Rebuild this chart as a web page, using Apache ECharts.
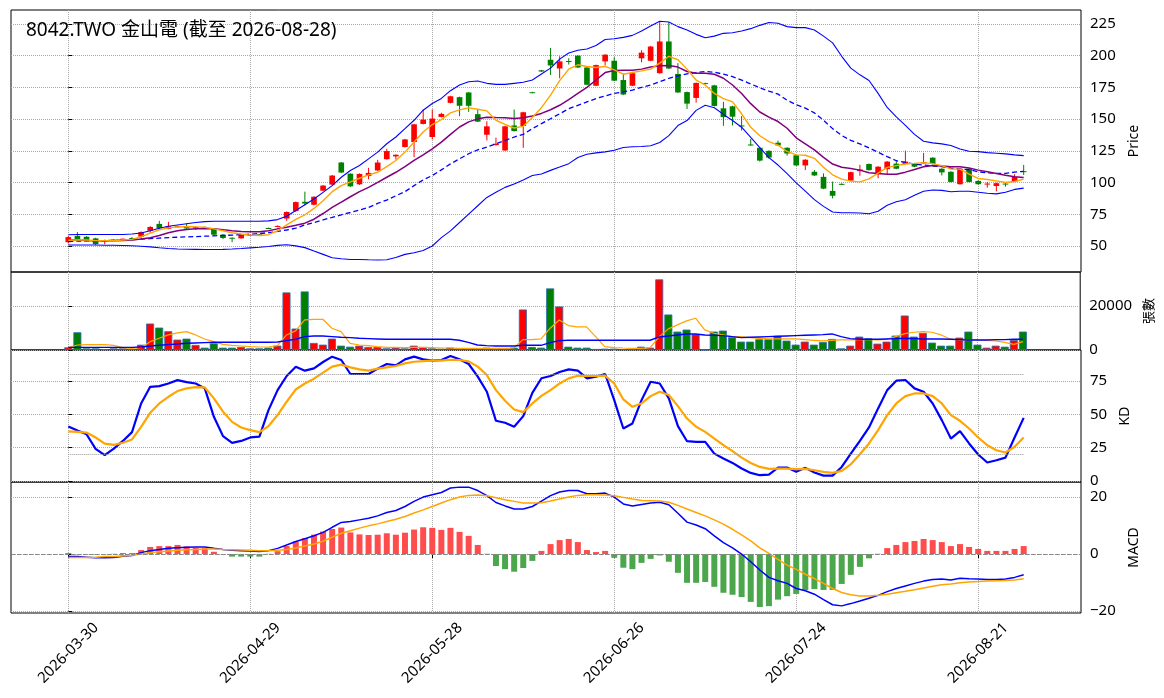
<!DOCTYPE html>
<html>
<head>
<meta charset="UTF-8">
<title>8042.TWO 金山電</title>
<script src="https://cdn.jsdelivr.net/npm/echarts@6/dist/echarts.min.js"></script>
<style>
  html, body { margin: 0; padding: 0; background: #fff; }
  #main { width: 1164px; height: 698px; }
</style>
</head>
<body>
<div id="main"></div>
<script>
// trading days shown on the chart
const dates = [
  '2026-03-30','2026-03-31','2026-04-01','2026-04-02','2026-04-07','2026-04-08','2026-04-09','2026-04-10',
  '2026-04-13','2026-04-14','2026-04-15','2026-04-16','2026-04-17','2026-04-20','2026-04-21','2026-04-22',
  '2026-04-23','2026-04-24','2026-04-27','2026-04-28','2026-04-29','2026-04-30','2026-05-04','2026-05-05',
  '2026-05-06','2026-05-07','2026-05-08','2026-05-11','2026-05-12','2026-05-13','2026-05-14','2026-05-15',
  '2026-05-18','2026-05-19','2026-05-20','2026-05-21','2026-05-22','2026-05-25','2026-05-26','2026-05-27',
  '2026-05-28','2026-05-29','2026-06-01','2026-06-02','2026-06-03','2026-06-04','2026-06-05','2026-06-08',
  '2026-06-09','2026-06-10','2026-06-11','2026-06-12','2026-06-15','2026-06-16','2026-06-17','2026-06-18',
  '2026-06-22','2026-06-23','2026-06-24','2026-06-25','2026-06-26','2026-06-29','2026-06-30','2026-07-01',
  '2026-07-02','2026-07-03','2026-07-06','2026-07-07','2026-07-08','2026-07-09','2026-07-10','2026-07-13',
  '2026-07-14','2026-07-15','2026-07-16','2026-07-17','2026-07-20','2026-07-21','2026-07-22','2026-07-23',
  '2026-07-24','2026-07-27','2026-07-28','2026-07-29','2026-07-30','2026-07-31','2026-08-03','2026-08-04',
  '2026-08-05','2026-08-06','2026-08-07','2026-08-10','2026-08-11','2026-08-12','2026-08-13','2026-08-14',
  '2026-08-17','2026-08-18','2026-08-19','2026-08-20','2026-08-21','2026-08-24','2026-08-25','2026-08-26',
  '2026-08-27','2026-08-28'
]
const tickIdx = [0, 20, 40, 60, 80, 100]

const open = [53,58,57.3,56,53.6,54.4,54.2,56.3,57.3,62,67.4,63.5,65.2,65.6,64.3,65,63.5,58.9,56.5,56,
  58.3,59.2,64.2,65.2,71.6,77.6,84.8,82.5,93.6,98.4,115.8,107,98.6,105.2,109.5,118.4,120.6,128,131.9,146.2,
  135.9,151.7,162.8,167.3,171,153.9,137.7,129.5,125.3,145,144.6,171.2,188.5,196.8,189.9,195.8,200,190.7,176.3,195.5,
  196,180.8,176.3,197.9,196,186.2,211.2,185.6,171.3,166.7,178.4,176.6,158.5,160.1,145,130,127.4,125,131.4,127.4,
  121.5,113.5,108.5,104.5,93.4,99,101.6,109,114.6,106.6,110.6,114.9,114.6,115.1,115.1,119.6,110.9,108.5,98.7,110.9,
  101.3,98.7,97.3,99.2,100.8,109]
const close = [57,55.5,54.7,51.5,54.7,55,55.7,54.8,61,65,64,65.6,65.5,63.8,65,63.5,58.9,56.3,56,59,
  58.8,58.8,63.8,65.8,76.8,84.6,83.5,88.8,97.6,105.5,107.9,97,106.8,107.6,115.8,124.8,121.9,134,145.9,149.6,
  150.4,154.1,168,160.5,160.5,148,144.3,130.6,144.3,140.6,155.4,170.8,187.5,192.3,195.5,195.2,190.7,177.1,192.6,200.8,
  180.3,169.4,186.2,202.4,207.2,211.2,189.9,171,162.2,178.5,178,160.4,151.6,151.9,144.5,129.5,117.3,119.7,129.3,122.9,
  113.5,118,105.6,95.2,89.6,98.5,108.2,110.3,109.8,112.5,116.5,110.9,116.5,112.5,116.2,114.6,108,100.5,110.9,100.5,
  98.7,99.2,99.5,98.7,104.5,108.5]
const high = [58,61,57.8,56.5,55,55.5,56,57,61.5,65.6,69.8,69,66,67.7,65.3,65.3,63.8,59.2,56.8,59.3,
  59.2,59.5,64.5,66.2,77.2,85,92.8,89.2,98,106,116.2,107.3,107.2,111.6,117.9,126.6,122.3,134.4,146.3,157.6,
  157.6,155,168.4,167.7,171.4,157.8,148.3,135.4,144.7,157.6,155.8,171.5,188.8,206.1,199.5,198,200.4,191,193,201.2,
  198.8,185.9,186.6,204.3,207.6,227,226.5,194.1,171.7,178.9,178.7,177,163.6,160.5,152.4,134.3,127.8,125.4,133,127.8,
  121.9,118.4,109.8,107.2,100.8,99.3,108.6,114,115,112.9,116.9,117.8,125.2,115.5,123.4,120,111.3,108.9,111.3,111.3,
  101.7,100.5,99.9,99.6,106.6,113.9]
const low = [52,55,54.3,50.8,51.3,54,54,54.5,56,60.4,63.5,63.2,64.8,63.5,62.5,63.2,58.1,55.5,53,55.7,
  58,58.5,63.5,64.8,69.8,76.8,82,82,93.2,98,107.5,96.5,98.2,102.6,109.2,118,118.2,127.6,120,145.8,
  134,151.3,162.4,152.3,155.7,147.6,133.2,129.2,125,140.2,127.4,170.5,187.2,184.8,182.2,193,190.3,176.7,176,192.3,
  180,169,176,194.8,195.6,185.8,189.5,170.6,158,163,177.7,160,144.7,145,141,129,116.5,118.8,128.9,121.2,
  113.1,109.8,105.2,94.8,87.5,98.2,101.2,105.3,109.4,103.4,106.5,110.5,114.2,112.1,114.8,114.2,105.6,100.1,98.3,100.1,
  98.3,96,93.1,96.8,100.4,106]

const ma5 = [54.5,54.7,54.7,54.2,54.2,54.2,54.7,55.2,57.3,60.2,62.8,64.3,65.1,65.4,65.1,64.8,63.5,62,60.4,59.4,
  58.6,58.3,58.9,62,66.7,71,74.6,79.6,85.7,92.8,97.6,100.5,103.4,106,108.1,112.6,117.4,124,131.9,139.8,
  145.7,149.6,154.9,157.3,158.9,157.8,156.5,149.1,145.9,143,144.3,151.2,159,168.9,180.3,189.4,192.8,191.5,190.7,191.5,
  188.8,185.4,186.7,188,189.4,194.1,199.5,196.8,189.4,180.8,176.9,170.2,166.2,163.6,154.2,143.6,136.9,132.2,129.5,124.5,
  121.8,121.5,119.1,112,106.1,102.7,101.1,100.5,102.9,107.4,112,113.3,114.6,115.1,115.7,114.9,113.3,110.6,110.6,106.6,
  103.2,102.4,101.3,100,100.8,102.7]
const ma10 = [54.7,54.7,54.4,54.2,54.2,54.2,54.4,54.7,55.5,56.5,58.3,60.4,62,63,63.5,63.8,63.5,62.8,62,61.5,
  61.2,61.2,62,63.5,64.8,66.3,68,71.1,75.6,80.4,84.6,88.8,92.8,96.2,100.2,104.2,108.1,112.6,117.4,121.9,
  126.6,131.9,138,143.8,147.8,150.2,151.5,151.2,151,150.4,151,152.5,154.5,157.4,160.9,165.4,170.2,175,180.8,186.7,
  188.3,188.6,188.6,189.4,191,192,192.3,191,187.5,186.2,186.2,185.4,182.2,176.9,170.2,162.2,155.6,151.6,148.1,142.8,
  135.3,130.5,125.7,119.9,114.6,112,111.1,109.8,107.7,107.2,106.6,106.6,108.2,110.3,112.5,113.5,113,112.5,112.5,111.4,
  109.8,108.5,107.2,105.8,104.5,104]
const ma20 = [53.6,53.8,54,54.2,54.3,54.5,54.7,55,55.4,55.8,56.2,56.6,56.9,57.2,57.4,57.7,58,58.3,58.6,58.9,
  59.3,59.8,60.5,61.5,62.6,64,66.6,68.5,70.6,72.5,74.6,76.4,78.3,80.4,83.6,86.2,89.6,92.8,97.6,102.1,
  105.5,110,114.7,118.7,122.7,125.8,128,130.6,133.2,135.9,138,142.5,146.4,150.3,154.2,158.2,160.9,163.6,166.2,168.3,
  170.2,171.5,172.9,175,176.9,179.5,182.2,184,185.6,186.7,187.5,187,185.4,183.5,180.8,177.7,174.7,172.1,169.7,164.8,
  161.4,158.7,154.9,149.1,142.5,137.1,133.2,130.5,127.3,123.9,120.4,117.2,115.9,114.6,113.8,113,112.5,111.4,110.6,110.1,
  108.5,107.7,107.2,107.2,108.2,108.8]
const bbUpper = [58.9,59,59,59,59,59,59.1,59.5,60.2,62,64,65.5,66.5,67.5,68.5,69.2,69.5,69.5,69.5,69.5,
  69.5,69.5,69.8,70.8,73.5,78,82.5,87,92.3,97.6,104.2,109.5,113.4,118.7,124,130.6,135.9,142.5,149.1,157,
  162.3,166.3,172.4,176.9,179.5,180,178.2,177.4,177.4,178.2,179,180.8,185.5,190.2,197.3,202.1,204.3,205.3,208,212.8,
  213.3,214.4,216,219.4,223.4,227.1,226.6,222.9,220.2,216.8,214.1,215.4,217.6,218.1,219.4,221.3,223.9,226.1,225.5,222.9,
  222.1,222.1,220.2,215.4,210.1,199.5,190.2,184.9,180.4,170.3,159.2,151.7,145.1,138,132.6,131.3,130.5,129.2,126.5,124.7,
  124.4,123.6,123.1,122.6,121.8,121.2]
const bbLower = [50.8,50.8,50.8,50.8,50.6,50.6,50.4,50.2,49.8,49.3,48.6,48,47.6,47.4,47.3,47.2,47.2,47.3,47.6,48,
  48.5,49,49.6,50.5,51,50.1,48.7,46,43.4,40.7,39.9,39.4,39.4,39.1,38.9,39.1,41,43.4,44.7,46.5,
  50,56.6,61.9,68.5,75.1,81.7,88.3,92.3,96.2,98.9,102.1,105.5,106.8,109.6,112.2,114.9,119.7,122.3,123.4,124.2,
  125.5,127.6,128.2,128.4,129,131.6,137,144.9,148.9,156.9,160.9,159,153.7,148.9,143.6,135.6,127.6,119.7,113.8,107,
  99.8,93.2,86.5,81.2,76.8,76.2,76.2,76,75.4,77.4,82.1,84.8,86.5,89.9,93.2,94.1,93.8,92.8,93.2,93.2,
  92.4,91.6,91.1,92.4,94.6,95.6]

// 張數
const volume = [1200,8030,760,760,300,760,760,450,2400,11970,10150,8480,4700,5150,2270,1060,3030,1060,1060,1360,
  760,760,1060,1970,26060,9700,26500,3180,2420,5150,1970,1500,1970,1360,1360,760,1060,760,1970,1360,
  760,600,1060,760,760,760,1060,760,760,1060,18330,1360,1060,27880,19700,1500,1060,1060,450,600,
  600,300,300,1500,1060,31970,16060,8330,9240,7120,100,8330,8790,5760,3790,3790,4850,4850,6360,4240,
  2420,3790,2420,3640,5000,760,1970,6060,5300,2880,3790,6510,15600,6060,7730,3330,1970,1970,5600,8330,
  2420,1060,1970,1500,4545,8330]
const volMa5 = [1060,2270,2420,2420,2420,2120,1060,760,1060,3790,5300,6820,7730,8330,6820,5000,3790,2575,2120,1820,
  1500,1360,1360,1970,6820,8640,13600,13900,13900,9850,8330,3030,2270,1970,1500,1210,1210,1060,1210,1210,
  1060,900,900,760,760,760,760,760,760,900,4700,4700,5000,9850,13600,11060,10450,10450,6060,1500,
  1060,900,760,760,1060,6060,9545,11360,13180,14390,9090,7575,6820,6060,6060,5600,5300,5000,5000,5000,
  5000,4700,4400,4090,4400,4545,4545,4700,4700,4545,4850,6060,7420,8030,8330,8030,6820,5000,4545,4700,
  4545,4400,4090,3480,2575,3790]
const volMa20 = [1210,1210,1210,1210,1210,1210,1210,1210,1360,1820,2120,2420,2730,3030,3180,3330,3480,3480,3480,3480,
  3480,3480,3480,3640,4240,4850,6060,6360,6360,6060,5760,5600,5300,5150,5000,4850,4850,4850,4850,4850,
  4850,4850,4850,4400,3480,2270,1970,1820,1820,1820,2120,2120,2120,3330,4240,4400,4400,4400,4400,4400,
  4400,4400,4400,4400,4400,5900,6360,6820,7270,7270,6820,6670,6510,6060,5600,5760,5900,6060,6210,6360,
  6510,6670,6820,6970,7270,6060,5150,4850,4850,4850,5000,5150,5300,5150,5000,5000,5000,4850,4700,4545,
  4545,4545,4700,4700,4850,4850]

const kLine = [40.8,37.8,35,24,19.3,24.3,30,36.6,58.1,70.6,71.1,73.1,75.6,74.1,73.1,69.4,48.1,33.6,28.6,30,
  32.6,33.3,53.1,68.1,78.7,85.7,82.7,84.4,89.2,93.2,90.7,80.2,80.2,80.2,84.2,87.7,86.7,91.2,93.2,91.2,
  90.2,90.7,93.7,91.2,87.7,78.2,66.9,45.1,43.6,40.6,48.6,66.1,77,78.7,81.7,83.7,82.7,76.9,78.2,80.2,
  60.6,39.3,43.1,60.6,74.4,73.1,61.9,41.1,29.8,29.3,29.3,20.5,16.8,13.5,9.3,6,4.3,4.8,10,10,
  6.8,9.8,6.3,4,4,10.5,20.5,30.1,40.1,54.4,68.1,75.2,75.7,69.4,66.9,58.1,45.6,31.8,37.3,28.1,
  19.8,13.8,15.5,17.5,32.6,47.3]
const dLine = [37.1,36.8,36.3,32.6,28,27,28.6,31.1,40.6,51.1,58.1,63.1,67.4,69.4,70.4,70.1,61.9,51.9,44.3,40.1,
  38.1,36.6,41.1,49.4,59.4,68.6,73.1,76.7,81.2,85.7,87.2,85.2,83.7,82.7,84.2,85.2,86.2,88.2,89.4,89.9,
  90.2,90.2,90.9,90.7,89.7,85.7,79.4,68.1,60.1,53.6,51.6,58.1,63.8,68.1,73.1,76.9,78.9,78.7,78.7,78.9,
  73.1,61.1,55.6,58.1,63.6,66.9,64.4,56.1,46.8,40.6,36.8,31.8,26.8,22.3,17.5,13.5,10.5,9,9.3,9.3,
  8.8,9,8,6.8,6,7.5,12.5,20,28.1,38.1,49.4,58.1,63.6,65.6,65.6,63.6,58.1,49.4,45.1,39.3,
  32.6,26.8,23,21.3,25.6,32.6]

const dif = [-0.9,-0.9,-1.1,-1.3,-1.3,-1.2,-0.8,-0.5,0.5,1.2,1.6,2,2.2,2.4,2.5,2.5,2,1.6,1.3,1.2,
  1.1,0.9,1.2,2,3.2,4.4,5.4,6.4,7.6,9.4,11.1,11.4,12,12.6,13.4,14.6,15.3,16.7,18.5,20,
  20.8,21.6,23.2,23.5,23.5,22.3,20.5,18.1,16.9,15.8,15.8,16.7,18.6,20.5,21.8,22.3,22.3,21.2,21.2,21.4,
  20,17.6,16.9,17.4,17.9,18.2,17.3,14.3,11.2,10.2,8.9,6.4,4,2.2,0,-2.7,-5.6,-8.2,-9.4,-10.3,
  -12.1,-12.9,-14.1,-16,-17.8,-18.2,-17.4,-16.5,-15.5,-14.5,-13.2,-12.1,-11.2,-10.3,-9.5,-8.9,-8.8,-9.1,-8.5,-8.7,
  -8.8,-8.9,-8.9,-8.8,-8.2,-7.3]
const dea = [-1.2,-1.2,-1.2,-1.1,-0.9,-0.9,-0.7,-0.4,0,0.5,0.8,1.1,1.3,1.5,1.6,1.8,1.8,1.6,1.5,1.4,
  1.3,1.2,1.2,1.3,1.6,2.1,2.8,3.5,4.5,5.9,7.3,8.2,9.1,9.9,10.6,11.4,12.2,13.2,14.4,15.5,
  16.7,17.9,19.1,20,20.6,20.7,20.5,19.8,19.1,18.5,17.9,17.9,18,18.6,19.3,20,20.6,20.8,20.8,20.7,
  20.5,19.9,19.3,18.8,18.7,18.6,18.2,17.1,15.8,14.6,13.4,12,10.5,8.7,6.7,4.6,2.2,0.2,-1.9,-3.9,
  -5.4,-7.1,-8.6,-10.3,-12.1,-13.5,-14.3,-14.7,-14.7,-14.5,-14.1,-13.6,-13.1,-12.5,-11.9,-11.3,-10.8,-10.5,-10.1,-9.8,
  -9.6,-9.5,-9.4,-9.3,-9.1,-8.7]
const macdHist = [0.35,-0.1,-0.1,-0.2,-0.1,0.1,0.35,0.35,1.4,2.5,2.8,2.8,3.2,2.7,2.2,2.1,0.8,-0.1,-0.9,-0.9,
  -0.9,-0.9,0.1,1,2.8,4.4,5.6,6.8,7.9,8.8,9.3,7.6,6.9,6.7,6.8,7.3,6.8,7.5,8.6,9.4,
  9.2,8.5,9.2,7.8,6.4,3.2,0.1,-4.2,-5.3,-6.2,-4.9,-2.4,1.1,3.5,4.9,5.3,4.2,1.4,0.7,1.1,
  -1.3,-4.8,-5.3,-3.1,-1.7,-0.5,-2.7,-6.6,-10.1,-10.1,-9.8,-11.5,-13.6,-14.3,-15.1,-16.8,-18.6,-18.3,-16,-14.8,
  -14,-12.7,-12.3,-12.6,-12.6,-10.5,-7.3,-4.5,-1.5,0.1,2.1,3.2,4.2,4.6,5.3,4.9,4.2,2.8,3.5,2.5,
  1.8,1.1,1.1,1.1,1.8,2.8]

const UP = '#ff0000', DOWN = '#008000'
const FONT = '"Noto Sans", "Noto Sans CJK TC", sans-serif'
const xMin = -6.3, xMax = 111.3

const pair = arr => arr.map((v, i) => [i, v])

const candleData = dates.map((d, i) => [i, open[i], close[i], low[i], high[i]])

function renderCandle(params, api) {
  const i = api.value(0)
  const o = api.value(1), c = api.value(2), l = api.value(3), h = api.value(4)
  const pO = api.coord([i, o]), pC = api.coord([i, c])
  const pL = api.coord([i, l]), pH = api.coord([i, h])
  const w = api.size([0.62, 0])[0]
  const color = c >= o ? UP : DOWN
  const top = Math.min(pO[1], pC[1])
  const bh = Math.max(Math.abs(pO[1] - pC[1]), 1)
  return {
    type: 'group',
    children: [
      { type: 'line', shape: { x1: pH[0], y1: pH[1], x2: pL[0], y2: pL[1] }, style: { stroke: color, lineWidth: 1 } },
      { type: 'rect', shape: { x: pO[0] - w / 2, y: top, width: w, height: bh }, style: { fill: color } }
    ]
  }
}

function makeX(gridIndex, last) {
  return {
    type: 'value', gridIndex, min: xMin, max: xMax,
    axisLine: { show: false },
    axisTick: { show: last, customValues: tickIdx, length: 4, lineStyle: { color: '#000' } },
    axisLabel: {
      show: last, customValues: tickIdx, rotate: 45, margin: 40,
      align: 'center', verticalAlign: 'middle',
      fontFamily: FONT, fontSize: 15, color: '#000',
      formatter: v => dates[Math.round(v)] || ''
    },
    splitLine: { show: true, lineStyle: { type: 'dotted', color: '#aaa', width: 1 } }
  }
}

function makeY(gridIndex, min, max, ticks, name, gap, nameSize) {
  return {
    type: 'value', gridIndex, position: 'right', min, max,
    name, nameLocation: 'middle', nameRotate: 90, nameGap: gap,
    nameTextStyle: { fontFamily: FONT, fontSize: nameSize, color: '#000' },
    axisLine: { show: false },
    axisTick: { show: true, customValues: ticks, length: 4, lineStyle: { color: '#000' } },
    axisLabel: {
      customValues: ticks, fontFamily: FONT, fontSize: 15, color: '#000', margin: 9,
      formatter: v => String(v).replace('-', '\u2212')
    },
    splitLine: { show: true, lineStyle: { type: 'dotted', color: '#aaa', width: 1 } }
  }
}

const gridBase = { left: 11, right: 83, show: true, borderColor: '#000', borderWidth: 1, backgroundColor: 'transparent' }

const line = (name, data, xi, color, width, extra) => Object.assign({
  type: 'line', name, xAxisIndex: xi, yAxisIndex: xi, data: pair(data),
  showSymbol: false, symbol: 'none', silent: true,
  lineStyle: { color, width }, z: 3
}, extra || {})

const chart = echarts.init(document.getElementById('main'))
chart.setOption({
  animation: false,
  backgroundColor: '#fff',
  textStyle: { fontFamily: FONT },
  title: {
    text: '8042.TWO 金山電 (截至 2026-08-28)',
    left: 21, top: 16,
    textStyle: { fontFamily: FONT, fontSize: 19, fontWeight: 'normal', color: '#000' }
  },
  grid: [
    Object.assign({ top: 10, height: 262 }, gridBase),
    Object.assign({ top: 272, height: 78 }, gridBase),
    Object.assign({ top: 350, height: 132 }, gridBase),
    Object.assign({ top: 482, height: 131 }, gridBase)
  ],
  xAxis: [makeX(0, false), makeX(1, false), makeX(2, false), makeX(3, true)],
  yAxis: [
    makeY(0, 29.5, 236, [50, 75, 100, 125, 150, 175, 200, 225], 'Price', 42, 14),
    makeY(1, 0, 35300, [0, 20000], '張數', 58, 13),
    makeY(2, -0.8, 98.2, [0, 25, 50, 75], 'KD', 33, 14),
    makeY(3, -20.7, 25.3, [-20, 0, 20], 'MACD', 40, 14)
  ],
  series: [
    {
      type: 'custom', name: 'K', xAxisIndex: 0, yAxisIndex: 0,
      renderItem: renderCandle, data: candleData,
      encode: { x: 0, y: [1, 2, 3, 4] }, z: 2
    },
    line('BB upper', bbUpper, 0, '#0000ff', 1.1),
    line('BB lower', bbLower, 0, '#0000ff', 1.1),
    line('MA20', ma20, 0, '#0000ff', 1.3, { lineStyle: { color: '#0000ff', width: 1.3, type: [5, 3] } }),
    line('MA10', ma10, 0, '#800080', 1.5),
    line('MA5', ma5, 0, '#ffa500', 1.4),

    {
      type: 'bar', name: 'Volume', xAxisIndex: 1, yAxisIndex: 1, barWidth: 8,
      data: volume.map((v, i) => ({
        value: [i, v],
        itemStyle: { color: close[i] >= open[i] ? UP : DOWN, borderColor: '#2f6db5', borderWidth: 0.8 }
      })),
      z: 2
    },
    line('Vol MA5', volMa5, 1, '#ffa500', 1.2),
    line('Vol MA20', volMa20, 1, '#0000ff', 1.4),

    line('K', kLine, 2, '#0000ff', 2.2, {
      markLine: {
        silent: true, symbol: 'none', label: { show: false },
        lineStyle: { type: 'dotted', color: '#999', width: 1 },
        data: [
          [{ coord: [0, 80] }, { coord: [dates.length - 1, 80] }],
          [{ coord: [0, 20] }, { coord: [dates.length - 1, 20] }]
        ]
      }
    }),
    line('D', dLine, 2, '#ffa500', 2.2),

    {
      type: 'bar', name: 'MACD hist', xAxisIndex: 3, yAxisIndex: 3, barWidth: 6,
      data: macdHist.map((v, i) => ({
        value: [i, v],
        itemStyle: { color: v >= 0 ? '#ff4d4d' : '#4ca64c' }
      })),
      markLine: {
        silent: true, symbol: 'none', label: { show: false },
        lineStyle: { type: 'dashed', color: '#888', width: 1 },
        data: [{ yAxis: 0 }]
      },
      z: 2
    },
    line('DIF', dif, 3, '#0000ff', 1.5),
    line('DEA', dea, 3, '#ffa500', 1.5)
  ]
})
</script>
</body>
</html>
